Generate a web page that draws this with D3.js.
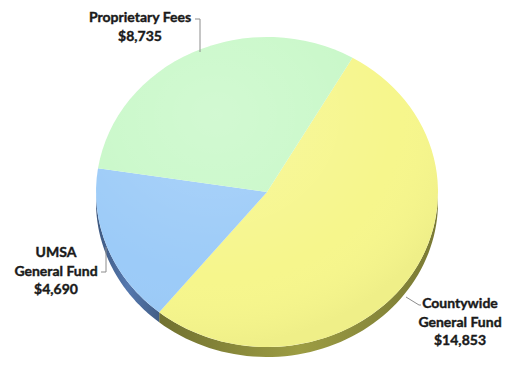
<!DOCTYPE html>
<html><head><meta charset="utf-8">
<script src="https://cdn.jsdelivr.net/npm/d3@7"></script>
<style>body{margin:0;background:#fff}svg{display:block}</style>
</head><body>
<svg id="c" width="510" height="365"></svg>
<script>
const categories = ["Countywide General Fund", "UMSA General Fund", "Proprietary Fees"];
const values = [14853, 4690, 8735];
const labelLines = [["Countywide", "General Fund", "$14,853"], ["UMSA", "General Fund", "$4,690"], ["Proprietary Fees", "$8,735"]];
const topColors = ["#f6f68c", "#9ccbf8", "#c8f8c8"];
const sideColors = ["#8c8c3c", "#4c6c9c", "#6a9a6a"];

const svg = d3.select("#c");
const cx = 267, cy = 192, rx = 171, ry = 155, depth = 10;
const startDeg = 30;

const pie = d3.pie().sort(null).value(d => d)
  .startAngle(startDeg * Math.PI / 180)
  .endAngle((startDeg + 360) * Math.PI / 180);
const arcsData = pie(values);

const defs = svg.append("defs");
topColors.forEach((c, i) => {
  const g = defs.append("linearGradient").attr("id", "side" + i).attr("x1", 0).attr("y1", 0).attr("x2", 1).attr("y2", 0);
  const base = d3.color(sideColors[i]);
  g.append("stop").attr("offset", "0%").attr("stop-color", base.darker(0.6));
  g.append("stop").attr("offset", "50%").attr("stop-color", base.brighter(0.3));
  g.append("stop").attr("offset", "100%").attr("stop-color", base.darker(0.4));
});
const hl = defs.append("radialGradient").attr("id", "hl").attr("cx", "35%").attr("cy", "25%").attr("r", "75%");
hl.append("stop").attr("offset", "0%").attr("stop-color", "#fff").attr("stop-opacity", 0.18);
hl.append("stop").attr("offset", "70%").attr("stop-color", "#fff").attr("stop-opacity", 0.0);
hl.append("stop").attr("offset", "100%").attr("stop-color", "#000").attr("stop-opacity", 0.03);

const px = a => cx + rx * Math.sin(a);
const py = a => cy - ry * Math.cos(a);

const lo = Math.PI / 2, hi = 3 * Math.PI / 2;
arcsData.forEach((d, i) => {
  const a0 = d.startAngle, a1 = d.endAngle;
  const segs = [];
  for (const off of [0, -2 * Math.PI, 2 * Math.PI]) {
    const s = Math.max(a0 + off, lo), e = Math.min(a1 + off, hi);
    if (e > s) segs.push([s, e]);
  }
  segs.forEach(([s, e]) => {
    const n = 60, pts = [];
    for (let k = 0; k <= n; k++) { const a = s + (e - s) * k / n; pts.push([px(a), py(a)]); }
    for (let k = n; k >= 0; k--) { const a = s + (e - s) * k / n; pts.push([px(a), py(a) + depth]); }
    svg.append("path").attr("d", d3.line()(pts) + "Z")
      .attr("fill", "url(#side" + i + ")");
  });
});

const arc = d3.arc().innerRadius(0).outerRadius(rx);
const faceG = svg.append("g").attr("transform", `translate(${cx},${cy}) scale(1,${ry / rx})`);
faceG.selectAll("path.slice").data(arcsData).join("path").attr("class", "slice")
  .attr("d", arc).attr("fill", (d, i) => topColors[i]);
faceG.append("circle").attr("r", rx).attr("fill", "url(#hl)");

const labelPos = [
  { x: 460, y: 308, line: [[406, 297], [419, 305], [421, 305]] },
  { x: 56, y: 257, line: [[106, 247], [106, 272], [101, 272]] },
  { x: 140, y: 22, line: [[200, 52], [200, 19], [195, 19]] }
];
const font = "Lato,'Noto Sans',sans-serif";
labelLines.forEach((lines, i) => {
  const p = labelPos[i];
  svg.append("path").attr("d", d3.line()(p.line)).attr("fill", "none")
    .attr("stroke", "#8c8c8c").attr("stroke-width", 1);
  const t = svg.append("text").attr("text-anchor", "middle")
    .attr("font-family", font).attr("font-weight", "bold").attr("font-size", 14)
    .attr("fill", "#1a1a1a").attr("stroke", "#1a1a1a").attr("stroke-width", 0.4);
  lines.forEach((s, k) => t.append("tspan").attr("x", p.x).attr("y", p.y + k * 18.5).text(s));
});
</script>
</body></html>
